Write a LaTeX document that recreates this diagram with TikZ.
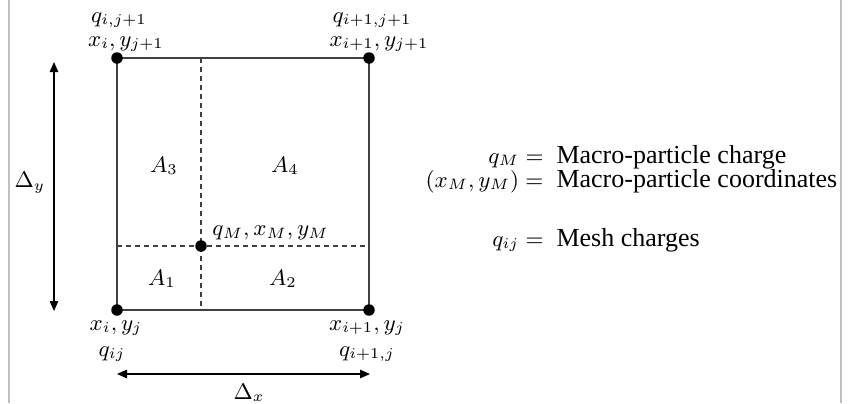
\documentclass[tikz,border=0pt]{standalone}
\usepackage[no-math]{fontspec}
\setmainfont{Liberation Serif}
\usetikzlibrary{arrows.meta}
\begin{document}
\begin{tikzpicture}[x=0.4pt,y=-0.4pt,
  gridline/.style={draw=black!75,line width=0.45pt},
  dashline/.style={draw=black!75,line width=0.45pt,dash pattern=on 2pt off 1.6pt},
  dimarrow/.style={draw=black,line width=0.5pt,{Triangle[length=4pt,width=3.4pt]}-{Triangle[length=4pt,width=3.4pt]}},
  meshdot/.style={circle,fill=black,inner sep=0pt,minimum size=4.6pt},
  lbl/.style={inner sep=0pt,font=\fontsize{8.8}{10.5}\selectfont},
  txt/.style={inner sep=0pt,font=\fontsize{10.4}{12.5}\selectfont},
  frameline/.style={draw=black!25,line width=0.5pt}]
\useasboundingbox (0,0) rectangle (849,403);
% page edges
\coordinate (fl1) at (9,0); \coordinate (fl2) at (9,403);
\coordinate (fr1) at (841,0); \coordinate (fr2) at (841,403);
\draw[frameline] (fl1) -- (fl2);
\draw[frameline] (fr1) -- (fr2);
% mesh points
\coordinate (c00) at (117,310);
\coordinate (c10) at (369,310);
\coordinate (c01) at (117,58);
\coordinate (c11) at (369,58);
\coordinate (cm) at (201,246);
\coordinate (dt) at (201,58);
\coordinate (db) at (201,310);
\coordinate (dl) at (117,246);
\coordinate (dr) at (369,246);
\draw[dashline] (dt) -- (db);
\draw[dashline] (dl) -- (dr);
\draw[gridline] (c00) -- (c10) -- (c11) -- (c01) -- cycle;
\node[meshdot] (n00) at (c00) {};
\node[meshdot] (n10) at (c10) {};
\node[meshdot] (n01) at (c01) {};
\node[meshdot] (n11) at (c11) {};
\node[meshdot] (nm) at (cm) {};
% dimension arrows
\coordinate (ayb) at (54,311);
\coordinate (ayt) at (54,62);
\draw[dimarrow] (ayb) -- (ayt);
\coordinate (axl) at (117,374);
\coordinate (axr) at (370,374);
\draw[dimarrow] (axl) -- (axr);
\node[lbl] (dy) at (30,183) {$\Delta_y$};
\node[lbl] (dx) at (249,393) {$\Delta_x$};
% corner labels
\node[lbl] (q01) at (119,20) {$q_{i,j+1}$};
\node[lbl] (x01) at (126,44) {$x_i, y_{j+1}$};
\node[lbl] (q11) at (372,20) {$q_{i+1,j+1}$};
\node[lbl] (x11) at (379,44) {$x_{i+1}, y_{j+1}$};
\node[lbl] (x00) at (116,328) {$x_i, y_j$};
\node[lbl] (q00) at (112,354) {$q_{ij}$};
\node[lbl] (x10) at (367,328) {$x_{i+1}, y_j$};
\node[lbl] (q10) at (367,354) {$q_{i+1,j}$};
% areas
\node[lbl] (a1) at (162,279) {$A_1$};
\node[lbl] (a2) at (283,279) {$A_2$};
\node[lbl] (a3) at (164,166) {$A_3$};
\node[lbl] (a4) at (285,166) {$A_4$};
\node[lbl,anchor=west] (qm) at (212,233) {$q_M, x_M, y_M$};
% legend
\node[lbl,anchor=base east] (l1) at (544,163) {$q_M =$};
\node[txt,anchor=base west] (r1) at (556,163) {Macro-particle charge};
\node[lbl,anchor=base east] (l2) at (544,187) {$(x_M, y_M) =$};
\node[txt,anchor=base west] (r2) at (556,187) {Macro-particle coordinates};
\node[lbl,anchor=base east] (l3) at (544,246) {$q_{ij} =$};
\node[txt,anchor=base west] (r3) at (556,246) {Mesh charges};
\end{tikzpicture}
\end{document}
